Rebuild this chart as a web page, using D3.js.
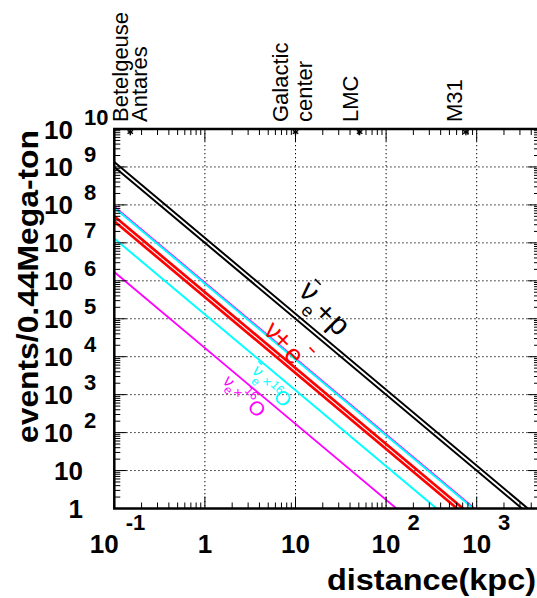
<!DOCTYPE html>
<html><head><meta charset="utf-8">
<script src="https://cdn.jsdelivr.net/npm/d3@7"></script>
<style>body{margin:0;background:#fff}svg{display:block}</style>
</head><body>
<svg id="c" width="537" height="598"></svg>
<script>
// ---------------- data ----------------
const xExponents = [-1, 0, 1, 2, 3];
const yExponents = [0, 1, 2, 3, 4, 5, 6, 7, 8, 9, 10];
const gridX = [1, 10, 100, 1000];
const gridY = [1e1, 1e2, 1e3, 1e4, 1e5, 1e6, 1e7, 1e8, 1e9];

const seriesNames = ["anti-nue+p (1)", "anti-nue+p (2)", "nu+e- (1)", "nu+e- (2)",
                     "nue+16O (upper)", "anti-nue+16O (upper)", "anti-nue+16O", "nue+16O"];
const eventsAt100pc = [1.35e9, 1.0e9, 5.0e7, 3.7e7, 8.9e7, 8.4e7, 1.3e7, 1.7e6];
const distanceAtOneEvent = [3670, 3160, 707, 608, 943, 917, 361, 130];
const seriesColors = ["#000", "#000", "#ff0000", "#ff0000", "#ff00ff", "#00ffff", "#00ffff", "#ff00ff"];
const seriesWidths = [2, 2, 2.7, 2.7, 2, 2, 2, 1.8];

const landmarkNames = ["Betelgeuse", "Antares", "Galactic", "center", "LMC", "M31"];
const landmarkLabelDistance = [0.143, 0.228, 8.33, 15.1, 48.9, 688];
const landmarkMarkerDistance = [0.15, 10, 51, 760];

const lineLabelAnchorDistance = [13.7, 5.5, 3.76, 1.8];
const lineLabelAnchorEvents = [4.8e5, 4.5e4, 3.95e3, 2.15e3];
const lineLabelColors = ["#000", "#ff0000", "#00ffff", "#ff00ff"];

// ---------------- layout ----------------
const svg = d3.select("#c");
const W = 537, H = 598;
const x0 = 114.3, decX = 90.6;
const x = d3.scaleLog().domain([0.1, 5000]).range([x0, x0 + decX * Math.log10(50000)]);
const y = d3.scaleLog().domain([1, 1e10]).range([508.5, 129]);
const [L, R] = x.range();
const [B, T] = y.range();
const FONT = "'Liberation Sans', Arial, Helvetica, sans-serif";

svg.append("rect").attr("width", W).attr("height", H).attr("fill", "#fff");

svg.append("defs").append("clipPath").attr("id", "clip")
  .append("rect").attr("x", L).attr("y", T).attr("width", R - L).attr("height", B - T);

// grid
const grid = svg.append("g").attr("stroke", "#000").attr("stroke-width", 1)
  .attr("stroke-dasharray", "1.3,2.7");
grid.selectAll(".gx").data(gridX).join("line")
  .attr("x1", d => x(d)).attr("x2", d => x(d)).attr("y1", T).attr("y2", B);
grid.selectAll(".gy").data(gridY).join("line")
  .attr("y1", d => y(d)).attr("y2", d => y(d)).attr("x1", L).attr("x2", R);

// series lines
const line = d3.line().x(d => x(d[0])).y(d => y(d[1]));
const lines = svg.append("g").attr("clip-path", "url(#clip)");
seriesNames.forEach((name, i) => {
  const pts = [[0.1, eventsAt100pc[i]], [distanceAtOneEvent[i], 1]];
  lines.append("path").attr("d", line(pts)).attr("fill", "none")
    .attr("stroke", seriesColors[i]).attr("stroke-width", seriesWidths[i]);
});

// ticks
const ticks = svg.append("g").attr("stroke", "#000").attr("stroke-width", 1);
const majLen = 12, minLen = 6;
const xt = [];
for (let e = -1; e <= 3; e++) for (let m = 1; m <= 9; m++) {
  const v = m * Math.pow(10, e); if (v >= 0.1 && v <= 5000) xt.push({v, major: m === 1});
}
xt.forEach(t => {
  const px = x(t.v), len = t.major ? majLen : minLen;
  ticks.append("line").attr("x1", px).attr("x2", px).attr("y1", B).attr("y2", B - len);
  ticks.append("line").attr("x1", px).attr("x2", px).attr("y1", T).attr("y2", T + len);
});
const yt = [];
for (let e = 0; e <= 9; e++) for (let m = 1; m <= 9; m++) yt.push({v: m * Math.pow(10, e), major: m === 1});
yt.push({v: 1e10, major: true});
yt.forEach(t => {
  const py = y(t.v), len = t.major ? majLen : minLen;
  ticks.append("line").attr("y1", py).attr("y2", py).attr("x1", L).attr("x2", L + len);
  ticks.append("line").attr("y1", py).attr("y2", py).attr("x1", R).attr("x2", R - len);
});

// frame
svg.append("rect").attr("x", L).attr("y", T).attr("width", R - L).attr("height", B - T)
  .attr("fill", "none").attr("stroke", "#000").attr("stroke-width", 2.5);

// landmark markers on top axis
svg.append("g").selectAll("path").data(landmarkMarkerDistance).join("path")
  .attr("d", d3.symbol().type(d3.symbolAsterisk).size(28))
  .attr("transform", d => `translate(${x(d)},${T + 3})`)
  .attr("stroke", "#000").attr("stroke-width", 1.4).attr("fill", "none");

// landmark labels (vertical)
svg.append("g").selectAll("text").data(landmarkNames).join("text")
  .attr("transform", (d, i) => `translate(${x(landmarkLabelDistance[i])},122) rotate(-90)`)
  .attr("font-family", FONT).attr("font-size", 22).attr("fill", "#000")
  .text(d => d);

// x tick labels
const xl = svg.append("g").attr("font-family", FONT).attr("font-weight", "bold").attr("fill", "#000");
xExponents.forEach(e => {
  const px = x(Math.pow(10, e));
  if (e === 0 || e === 1) {
    xl.append("text").attr("x", px).attr("y", 553).attr("text-anchor", "middle")
      .attr("font-size", 26).text(e === 0 ? "1" : "10");
  } else {
    const start = px - 14.5 - (e < 0 ? 10 : 0);
    const t = xl.append("text").attr("x", start).attr("y", 553).attr("font-size", 26);
    t.append("tspan").text("10");
    t.append("tspan").attr("dx", 7).attr("dy", -23).attr("font-size", 22).text(String(e));
  }
});

// y tick labels
const yl = svg.append("g").attr("font-family", FONT).attr("font-weight", "bold").attr("fill", "#000");
yExponents.forEach(e => {
  const py = y(Math.pow(10, e));
  if (e <= 1) {
    yl.append("text").attr("x", 83).attr("y", py + 9.5).attr("text-anchor", "end")
      .attr("font-size", 26).text(e === 0 ? "1" : "10");
  } else {
    const t = yl.append("text").attr("x", 44).attr("y", py + 9.5).attr("font-size", 26);
    t.append("tspan").text("10");
    t.append("tspan").attr("dx", 11).attr("dy", -14).attr("font-size", 22).text(String(e));
  }
});

// axis titles
svg.append("text").attr("x", 536).attr("y", 590).attr("text-anchor", "end")
  .attr("font-family", FONT).attr("font-weight", "bold").attr("font-size", 30)
  .attr("textLength", 209).attr("lengthAdjust", "spacingAndGlyphs")
  .text("distance(kpc)");
svg.append("text").attr("transform", "translate(38,443) rotate(-90)")
  .attr("font-family", FONT).attr("font-weight", "bold").attr("font-size", 30)
  .attr("textLength", 313).attr("lengthAdjust", "spacingAndGlyphs")
  .text("events/0.44Mega-ton");

// line labels (rotated 45°), glyph layout in label frame: [text, u, baselineY, size]
const glyphLayouts = [
  [["ν", 0, 7.5, 30], ["e", 12.7, 18.7, 18], ["+", 26.2, 11, 29], ["p", 44.5, 10, 30]],
  [["ν", 0, 6.8, 27], ["+", 13.4, 7, 27], ["e", 31.8, 9.5, 27]],
  [["ν", 0, 4.4, 17], ["e", 5.9, 11.6, 12], ["×", 14.1, 4.6, 14], ["16", 25.5, 0.3, 12], ["O", 36.8, 7.2, 20]],
  [["ν", 0, 4.4, 17], ["e", 5.9, 9.5, 12], ["×", 14.8, 5.3, 14], ["16", 24.7, -4.9, 12], ["O", 38.9, 5.1, 20]]
];
// bars / superscript dashes: [labelIndex, u, y, halfLength]
const dashes = [[0, -0.7, -14.8, 4], [1, 41, -15.6, 3.5], [2, -4.2, -8.5, 2.5]];

const lab = svg.append("g");
lineLabelAnchorDistance.forEach((d, i) => {
  const g = lab.append("g")
    .attr("transform", `translate(${x(d)},${y(lineLabelAnchorEvents[i])}) rotate(45)`)
    .attr("fill", lineLabelColors[i]).attr("font-family", FONT);
  glyphLayouts[i].forEach(([t, u, by, s]) => {
    g.append("text").attr("x", u).attr("y", by).attr("font-size", s)
      .attr("text-anchor", "middle").text(t);
  });
  dashes.filter(b => b[0] === i).forEach(([, u, by, h]) => {
    g.append("line").attr("x1", u - h).attr("x2", u + h).attr("y1", by).attr("y2", by)
      .attr("stroke", lineLabelColors[i]).attr("stroke-width", 1.5);
  });
});
</script>
</body></html>
